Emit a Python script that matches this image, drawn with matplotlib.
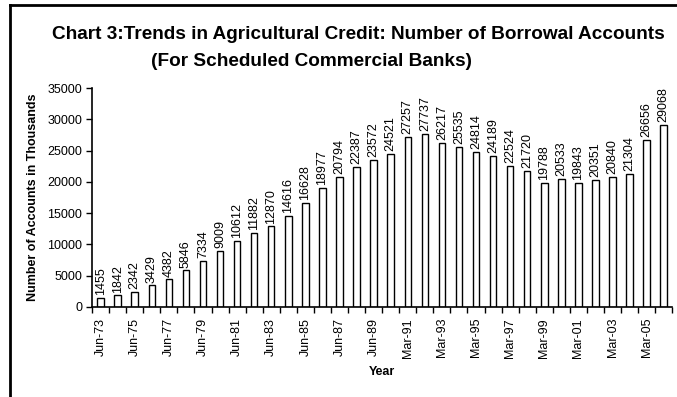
import matplotlib
matplotlib.use("Agg")
import matplotlib.pyplot as plt
from matplotlib.lines import Line2D
import numpy as np

plt.rcParams["font.family"] = ["Liberation Sans", "DejaVu Sans"]

# Borrowal accounts (thousands), one value per year
accounts = [1455, 1842, 2342, 3429, 4382, 5846, 7334, 9009, 10612, 11882,
            12870, 14616, 16628, 18977, 20794, 22387, 23572, 24521, 27257, 27737,
            26217, 25535, 24814, 24189, 22524, 21720, 19788, 20533, 19843, 20351,
            20840, 21304, 26656, 29068]
tick_labels = ["Jun-73", "Jun-75", "Jun-77", "Jun-79", "Jun-81", "Jun-83",
               "Jun-85", "Jun-87", "Jun-89", "Mar-91", "Mar-93", "Mar-95",
               "Mar-97", "Mar-99", "Mar-01", "Mar-03", "Mar-05"]

fig = plt.figure(figsize=(6.77, 3.97), dpi=100)
ax = fig.add_axes([0.136, 0.227, 0.857, 0.551])

x = np.arange(len(accounts))
ax.bar(x, accounts, width=0.38, color="white", edgecolor="black", linewidth=1.0)

for xi, v in zip(x, accounts):
    ax.text(xi, v + 450, str(v), rotation=90, ha="center", va="bottom",
            fontsize=9)

ax.set_xlim(-0.5, len(accounts) - 0.5)
ax.set_ylim(0, 35000)
ax.set_yticks(np.arange(0, 35001, 5000))
ax.tick_params(axis="y", labelsize=9, length=4, width=1, pad=3)

ax.set_xticks(x[::2])
ax.set_xticklabels(tick_labels, rotation=90, fontsize=9)
ax.set_xticks(np.arange(-0.5, len(accounts), 1), minor=True)
ax.tick_params(axis="x", which="major", length=0, pad=8)
ax.tick_params(axis="x", which="minor", length=4, width=1)

for side in ["top", "right"]:
    ax.spines[side].set_visible(False)
ax.spines["left"].set_linewidth(1.2)
ax.spines["bottom"].set_linewidth(1.2)

ax.set_xlabel("Year", fontsize=9, fontweight="bold", labelpad=6)
ax.set_ylabel("Number of Accounts in Thousands", fontsize=9, fontweight="bold",
              labelpad=6)

fig.text(0.529, 0.912, "Chart 3:Trends in Agricultural Credit: Number of Borrowal Accounts",
         ha="center", va="center", fontsize=13.7, fontweight="bold")
fig.text(0.46, 0.845, "(For Scheduled Commercial Banks)",
         ha="center", va="center", fontsize=13.7, fontweight="bold")

# outer frame, left and top edges
fig.add_artist(Line2D([0.015, 0.015], [0, 0.987], color="black", linewidth=2))
fig.add_artist(Line2D([0.015, 1.0], [0.987, 0.987], color="black", linewidth=2))

fig.savefig("out.png", dpi=100)
